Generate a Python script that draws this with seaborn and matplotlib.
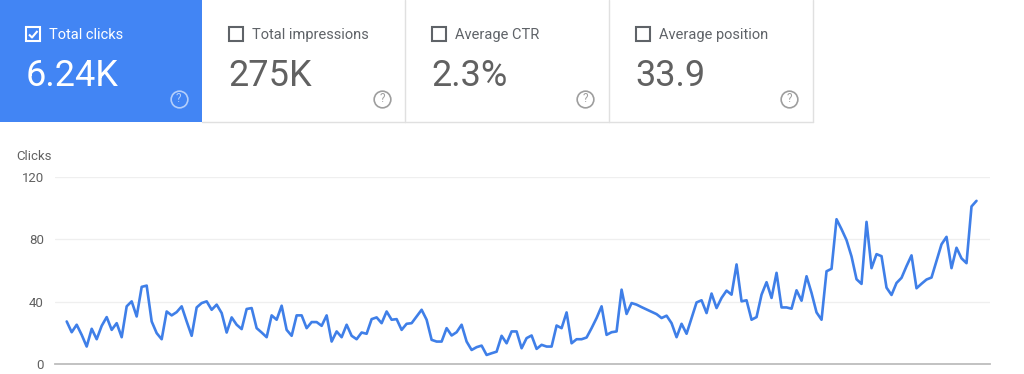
import matplotlib
matplotlib.use("Agg")
import matplotlib.pyplot as plt
from matplotlib.patches import Rectangle
from matplotlib.lines import Line2D
import seaborn as sns
import pandas as pd

# ---- data ----
card_titles = ["Total clicks", "Total impressions", "Average CTR", "Average position"]
card_values = ["6.24K", "275K", "2.3%", "33.9"]
y_ticks = [0, 40, 80, 120]
y_label = "Clicks"
clicks = [
    27.3, 20.4, 25.2, 18.7, 11.2, 22.6, 15.9, 24.5, 30.1, 21.9,
    26.2, 17.2, 37.0, 40.2, 30.5, 49.5, 50.3, 27.3, 19.8, 15.9,
    33.7, 31.2, 33.3, 37.0, 27.3, 18.1, 36.3, 39.1, 40.2, 34.8,
    38.1, 32.7, 20.2, 29.9, 25.2, 22.4, 35.3, 35.9, 23.0, 20.2,
    17.2, 31.2, 28.4, 37.4, 21.9, 18.1, 31.2, 31.2, 23.0, 26.9,
    26.9, 24.5, 31.2, 14.4, 20.9, 17.2, 25.2, 18.1, 15.9, 20.2,
    19.4, 28.8, 29.9, 26.2, 33.7, 28.4, 28.8, 21.9, 25.8, 26.2,
    30.5, 34.8, 28.4, 15.5, 14.4, 14.4, 23.0, 18.3, 20.4, 25.2,
    14.4, 9.0, 10.8, 11.8, 5.8, 6.9, 7.9, 18.1, 13.3, 20.9,
    20.9, 10.1, 16.6, 18.3, 9.7, 12.3, 11.2, 11.2, 24.7, 23.0,
    33.1, 13.3, 15.9, 15.9, 17.0, 23.0, 29.5, 37.0, 18.7, 20.4,
    20.9, 47.7, 32.1, 39.1, 38.1, 36.5, 35.0, 33.5, 32.0, 29.5,
    31.0, 26.2, 17.2, 25.8, 19.4, 29.5, 39.5, 40.9, 32.7, 45.2,
    35.9, 42.4, 47.1, 44.5, 63.9, 40.2, 40.9, 28.4, 30.1, 44.5,
    52.5, 42.4, 58.5, 36.3, 36.3, 35.5, 47.3, 40.6, 56.3, 45.6,
    33.1, 28.4, 59.5, 61.1, 92.9, 86.5, 79.5, 69.0, 54.4, 51.4,
    91.2, 61.5, 70.5, 69.2, 49.0, 44.3, 52.0, 55.3, 62.8, 69.7,
    48.6, 51.5, 54.2, 55.5, 66.2, 76.8, 81.6, 61.5, 74.6, 67.8,
    64.7, 101.1, 104.7,
]
days = list(range(len(clicks)))
df = pd.DataFrame({"day": days, "clicks": clicks})

# ---- figure ----
W, H = 1024, 374
sns.set_theme(style="white")
plt.rcParams["font.family"] = ["Roboto", "DejaVu Sans"]
fig = plt.figure(figsize=(W / 100, H / 100), dpi=100)
fig.patch.set_facecolor("white")


def fx(x):
    return x / W


def fy(y):
    return 1 - y / H


BLUE = "#4285f4"
GRAY_TXT = "#5f6368"
GRAY_NUM = "#616161"
BORDER = "#e0e0e0"

# ---- cards ----
card_x = [0, 202, 405, 609]
card_w = [202, 203, 204, 204]
card_h = 122
for i, (cx, cw) in enumerate(zip(card_x, card_w)):
    active = i == 0
    face = BLUE if active else "white"
    fig.add_artist(Rectangle((fx(cx), fy(card_h)), cw / W, card_h / H,
                             transform=fig.transFigure, facecolor=face,
                             edgecolor="none", zorder=1))
    if not active:
        # right border and bottom border
        fig.add_artist(Line2D([fx(cx + cw), fx(cx + cw)], [fy(0), fy(card_h)],
                              transform=fig.transFigure, color=BORDER, lw=1, zorder=2))
        fig.add_artist(Line2D([fx(cx), fx(cx + cw)], [fy(card_h), fy(card_h)],
                              transform=fig.transFigure, color=BORDER, lw=1, zorder=2))
    tcol = "white" if active else GRAY_TXT
    ncol = "white" if active else GRAY_NUM
    hcol = "#b3cefb" if active else "#9e9e9e"
    bx = cx + 26 if i == 0 else cx + 27
    # checkbox
    fig.add_artist(Rectangle((fx(bx), fy(41)), 14 / W, 14 / H,
                             transform=fig.transFigure, facecolor="none",
                             edgecolor=tcol, lw=1.5, zorder=3))
    if active:
        fig.add_artist(Line2D([fx(bx + 3), fx(bx + 6), fx(bx + 11.5)],
                              [fy(34.5), fy(37.5), fy(31)],
                              transform=fig.transFigure, color="white", lw=1.5,
                              zorder=4, solid_capstyle="butt"))
    fig.text(fx(bx + 23), fy(39), card_titles[i], color=tcol, fontsize=10.5,
             ha="left", va="baseline", zorder=4)
    fig.text(fx(bx - 0.5), fy(86), card_values[i], color=ncol, fontsize=26,
             ha="left", va="baseline", zorder=4)
    # help icon
    hx = cx + 178.5 if i == 0 else cx + 180
    fig.add_artist(Line2D([fx(hx)], [fy(98.5)], transform=fig.transFigure,
                          marker="o", markersize=12, markerfacecolor="none",
                          markeredgecolor=hcol, markeredgewidth=1.2, zorder=4))
    fig.text(fx(hx), fy(98.5), "?", color=hcol, fontsize=8.5, ha="center",
             va="center", zorder=5)

# ---- chart ----
ax_left, ax_right, ax_top, ax_bottom = 55, 990, 177, 364
ax = fig.add_axes([fx(ax_left), fy(ax_bottom), (ax_right - ax_left) / W,
                   (ax_bottom - ax_top) / H])
sns.lineplot(data=df, x="day", y="clicks", ax=ax, color="#3f7fe8", linewidth=1.9,
             clip_on=False, zorder=3)
ax.set_xlim(-2.34, 184.7)
ax.set_ylim(0, 120)
ax.set_yticks(y_ticks)
ax.set_yticklabels([str(t) for t in y_ticks], color="#616161", fontsize=9.5)
ax.set_xticks([])
ax.set_xlabel("")
ax.set_ylabel("")
ax.tick_params(axis="y", length=0, pad=8)
for s in ["top", "right", "left"]:
    ax.spines[s].set_visible(False)
ax.spines["bottom"].set_color("#bdbdbd")
ax.spines["bottom"].set_linewidth(1.3)
for t in y_ticks[1:]:
    ax.axhline(t, color="#efefef", lw=0.9, zorder=0)
ax.set_facecolor("white")
fig.text(fx(16), fy(157), y_label, color="#616161", fontsize=9.5, ha="left",
         va="center")

fig.savefig("out.png", dpi=100)
